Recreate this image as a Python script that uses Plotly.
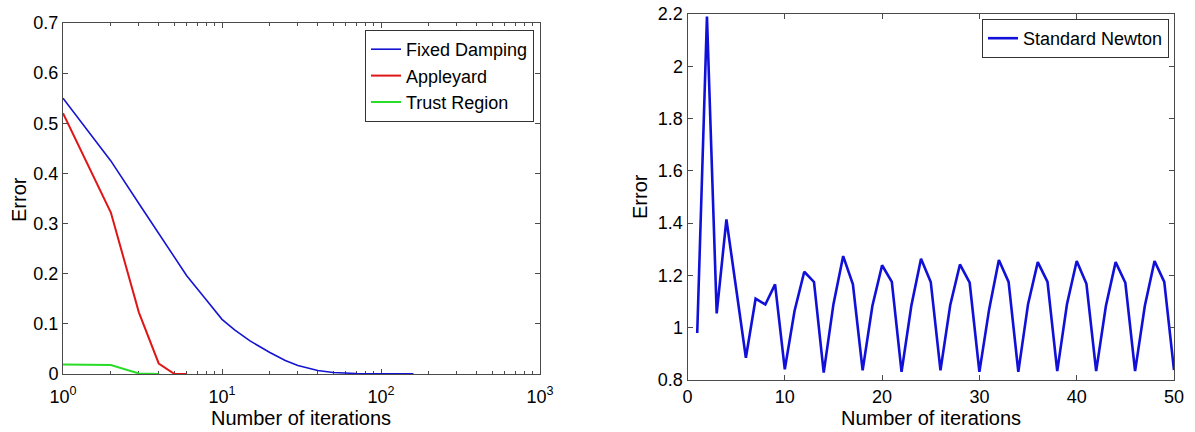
import plotly.graph_objects as go

# ---- data ----
fd_iter = [1, 2, 3, 4, 5, 6, 8, 10, 12, 15, 20, 25, 30, 40, 50, 70, 100, 160]
fd_err = [0.55, 0.425, 0.34, 0.28, 0.234, 0.196, 0.147, 0.109, 0.088, 0.066,
          0.043, 0.027, 0.017, 0.007, 0.003, 0.001, 0.0005, 0.0003]

ap_iter = [1, 2, 3, 4, 5, 6]
ap_err = [0.52, 0.322, 0.123, 0.021, 0.0005, 0.0]

tr_iter = [1, 2, 3, 4]
tr_err = [0.019, 0.018, 0.001, 0.0]

sn_iter = list(range(1, 51))
sn_err = [0.98, 2.19, 1.055, 1.414, 1.15, 0.885, 1.111, 1.089, 1.166, 0.841,
          1.064, 1.214, 1.175, 0.828, 1.09, 1.274, 1.166, 0.837, 1.083, 1.239,
          1.175, 0.831, 1.083, 1.264, 1.175, 0.837, 1.086, 1.242, 1.172, 0.831,
          1.07, 1.259, 1.175, 0.831, 1.09, 1.251, 1.175, 0.834, 1.09, 1.255,
          1.168, 0.834, 1.083, 1.251, 1.172, 0.834, 1.083, 1.255, 1.175, 0.838]

log_tickvals = [1, 10, 100, 1000]
log_ticktext = ["10<sup>0</sup>", "10<sup>1</sup>", "10<sup>2</sup>", "10<sup>3</sup>"]
log_minor = [m * d for d in (1, 10, 100) for m in range(2, 10)]

x_title = "Number of iterations"
y_title = "Error"

W, H = 1195, 432
FONT = "Liberation Sans, Arial, sans-serif"
AX = "#4a4a4a"

fig = go.Figure()
fig.add_trace(go.Scatter(x=fd_iter, y=fd_err, mode="lines", name="Fixed Damping",
                         line=dict(color="#1414d2", width=1.6), xaxis="x", yaxis="y",
                         legend="legend"))
fig.add_trace(go.Scatter(x=ap_iter, y=ap_err, mode="lines", name="Appleyard",
                         line=dict(color="#e01616", width=2), xaxis="x", yaxis="y",
                         legend="legend"))
fig.add_trace(go.Scatter(x=tr_iter, y=tr_err, mode="lines", name="Trust Region",
                         line=dict(color="#28dc28", width=2), xaxis="x", yaxis="y",
                         legend="legend"))
fig.add_trace(go.Scatter(x=sn_iter, y=sn_err, mode="lines", name="Standard Newton",
                         line=dict(color="#1010d8", width=2.6), xaxis="x2", yaxis="y2",
                         legend="legend2"))

common = dict(showline=True, linecolor=AX, linewidth=1, mirror="ticks",
              ticks="inside", tickcolor=AX, ticklen=5, showgrid=False,
              zeroline=False, automargin=False,
              tickfont=dict(size=18, color="black"))

legend_common = dict(bordercolor="#333333", borderwidth=1, bgcolor="white",
                     font=dict(size=18, color="black"), tracegroupgap=0,
                     xanchor="right", yanchor="top", itemwidth=30)

fig.update_layout(
    width=W, height=H, margin=dict(l=0, r=0, t=0, b=0),
    paper_bgcolor="white", plot_bgcolor="white",
    font=dict(family=FONT, size=18, color="black"),
    xaxis=dict(type="log", domain=[63 / W, 540 / W], range=[0, 3], anchor="y",
               tickmode="array", tickvals=log_tickvals, ticktext=log_ticktext,
               minor=dict(tickmode="array", tickvals=log_minor, ticks="inside",
                          ticklen=3, tickcolor=AX, showgrid=False),
               ticklabelstandoff=6, layer="below traces", **common),
    yaxis=dict(domain=[1 - 374 / H, 1 - 23 / H], range=[0, 0.7], dtick=0.1, tick0=0,
               anchor="x", **common),
    xaxis2=dict(domain=[687.5 / W, 1174 / W], range=[0, 50], dtick=10, tick0=0,
                anchor="y2", ticklabelstandoff=0, **common),
    yaxis2=dict(domain=[1 - 380 / H, 1 - 14 / H], range=[0.8, 2.2], dtick=0.2, tick0=0.8,
                anchor="x2", **common),
    legend=dict(x=534 / W, y=1 - 30 / H, **legend_common),
    legend2=dict(x=1169 / W, y=1 - 19 / H, **legend_common),
    showlegend=True,
)

title_font = dict(family=FONT, size=20, color="black")
fig.add_annotation(text=x_title, xref="paper", yref="paper", x=301 / W, y=1 - 418 / H,
                   xanchor="center", yanchor="middle", showarrow=False, font=title_font)
fig.add_annotation(text=x_title, xref="paper", yref="paper", x=931 / W, y=1 - 418 / H,
                   xanchor="center", yanchor="middle", showarrow=False, font=title_font)
fig.add_annotation(text=y_title, xref="paper", yref="paper", x=19 / W, y=1 - 200 / H,
                   xanchor="center", yanchor="middle", showarrow=False, textangle=-90,
                   font=title_font)
fig.add_annotation(text=y_title, xref="paper", yref="paper", x=640 / W, y=1 - 197 / H,
                   xanchor="center", yanchor="middle", showarrow=False, textangle=-90,
                   font=title_font)

fig.write_html("out.html")
